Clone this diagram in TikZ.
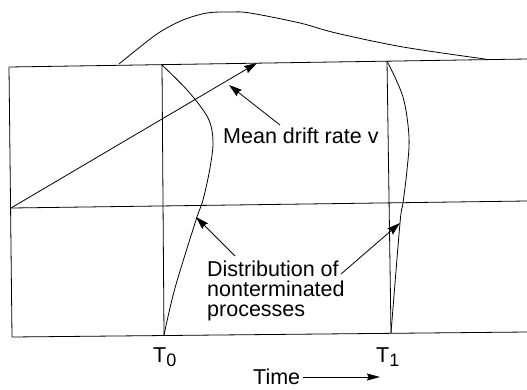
\documentclass[tikz,border=0pt]{standalone}
\usepackage{fontspec}
\setmainfont{Liberation Sans}
\usetikzlibrary{arrows.meta}
\begin{document}
\begin{tikzpicture}[x=1pt,y=-1pt,
  ln/.style={line width=0.8pt, line join=round},
  arr/.style={line width=0.8pt, -{Stealth[length=13pt,width=8pt,inset=1.5pt]}},
  lbl/.style={inner sep=0pt, font=\fontsize{21.5}{20}\selectfont}]
\useasboundingbox (0,0) rectangle (527,389);
% frame coordinates
\coordinate (tl) at (9,67);
\coordinate (tr) at (527,59);
\coordinate (ml) at (11,208);
\coordinate (mr) at (527,201);
\coordinate (bl) at (12,337);
\coordinate (br) at (527,332);
\coordinate (t0top) at (162,65);
\coordinate (t0bot) at (164,335);
\coordinate (t1top) at (387,61);
\coordinate (t1bot) at (391,333);
\coordinate (drifttip) at (257,63);
\coordinate (meantip) at (229,85);
\coordinate (d0tip) at (196,217);
\coordinate (d1tip) at (400,223);
% frame
\draw[ln] (tl) -- (tr);
\draw[ln] (tl) -- (bl) -- (br);
\draw[ln] (ml) -- (mr);
\draw[ln] (t0top) -- (t0bot);
\draw[ln] (t1top) -- (t1bot);
% top distribution curve
\draw[ln] plot[smooth, tension=0.55] coordinates {(119,64) (140,47) (160,32) (183,20) (207,13) (230,12) (250,13) (300,23) (336,33) (403,47) (485,59)};
% distribution at T0
\draw[ln] plot[smooth, tension=0.55] coordinates {(t0top) (188,91) (208,118) (213,141) (210,168) (203,200) (196,220) (175,288) (164,335)};
% distribution at T1
\draw[ln] plot[smooth, tension=0.55] coordinates {(t1top) (403,97) (409,137) (407,170) (403,203) (400,223) (391,333)};
% drift line
\draw[arr] (ml) -- (drifttip);
% labels
\node[lbl, anchor=base west] (mean) at (223,143) {Mean drift rate v};
\coordinate (meanstart) at (280,125);
\draw[arr] (meanstart) -- (meantip);
\node[lbl, anchor=base west, align=left] (dist) at (207,316) {Distribution of\\nonterminated\\processes};
\coordinate (d0start) at (235,256);
\coordinate (d1start) at (341,274);
\draw[arr] (d0start) -- (d0tip);
\draw[arr] (d1start) -- (d1tip);
\node[lbl, anchor=base west] (T0) at (153,362) {T\raisebox{-4pt}{\fontsize{18}{18}\selectfont 0}};
\node[lbl, anchor=base west] (T1) at (376,362) {T\raisebox{-4pt}{\fontsize{18}{18}\selectfont 1}};
\node[lbl, anchor=base west] (time) at (253,384) {Time};
\coordinate (timestart) at (303,377);
\coordinate (timetip) at (380,377);
\draw[line width=0.8pt, -{Stealth[length=13pt,width=7pt,inset=1.5pt]}] (timestart) -- (timetip);
\end{tikzpicture}
\end{document}
